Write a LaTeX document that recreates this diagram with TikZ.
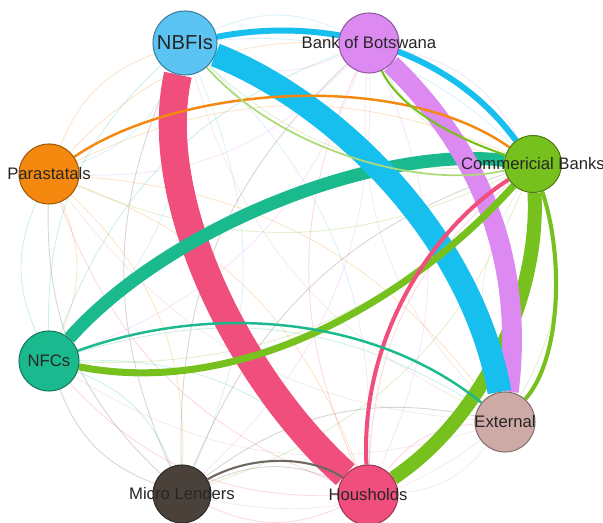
\documentclass[tikz,border=0pt]{standalone}
\usepackage{fontspec}
\setmainfont{Liberation Sans}
\usetikzlibrary{backgrounds}

\definecolor{nbfic}{HTML}{5BC4F3}
\definecolor{bluec}{HTML}{17BFEF}
\definecolor{bobc}{HTML}{DC8AF2}
\definecolor{parac}{HTML}{F5890F}
\definecolor{cbc}{HTML}{77C11E}
\definecolor{nfcc}{HTML}{1BBA8E}
\definecolor{extc}{HTML}{CDAAA5}
\definecolor{mlc}{HTML}{4A423A}
\definecolor{hhc}{HTML}{F04E7C}

\tikzset{
  actor/.style={circle,fill=#1,draw=#1!65!black,line width=0.6pt,
    minimum size=1.2cm,inner sep=0pt},
  lbl/.style={font=\fontsize{9.5}{11}\selectfont,text=black!85},
  faint/.style={line width=0.5pt,opacity=0.22},
  flow/.style={line cap=butt},
}

\begin{document}
\begin{tikzpicture}[x=0.02cm,y=-0.02cm]
\useasboundingbox (0,0) rectangle (603,523);

% the eight sectors
\node[actor=nbfic,minimum size=1.28cm,label={[lbl,font=\fontsize{11.5}{13}\selectfont]center:NBFIs}] (nbfi) at (185,43) {};
\node[actor=bobc,label={[lbl]center:Bank of Botswana}] (bob) at (369,43) {};
\node[actor=parac,label={[lbl]center:Parastatals}] (para) at (49,174) {};
\node[actor=cbc,minimum size=1.14cm,label={[lbl]center:Commericial Banks}] (cb) at (533,164) {};
\node[actor=nfcc,label={[lbl]center:NFCs}] (nfc) at (49,361) {};
\node[actor=extc,label={[lbl]center:External}] (ext) at (505,422) {};
\node[actor=mlc,minimum size=1.16cm,label={[lbl]center:Micro Lenders}] (ml) at (182,494) {};
\node[actor=hhc,label={[lbl]center:Housholds}] (hh) at (368,495) {};

\begin{pgfonlayer}{background}
% faint web between all sectors
\foreach \a/\c in {nbfi/nbfic,bob/bobc,para/parac,cb/cbc,nfc/nfcc,ext/extc,ml/mlc,hh/hhc}
{
  \foreach \b in {nbfi,bob,para,cb,nfc,ext,ml,hh}
  {
    \ifx\a\b\else\draw[faint,\c] (\a) to[bend left=24] (\b);\fi
  }
}

% large flows
\draw[flow,cbc,line width=8pt] (cb) .. controls (540,300) and (480,420) .. (hh);
\draw[flow,hhc,line width=16pt] (nbfi) .. controls (150,200) and (240,380) .. (hh);
\draw[flow,nfcc,line width=7.4pt] (cb) .. controls (380,145) and (170,225) .. (nfc);
\draw[flow,bobc,line width=11.3pt] (bob) .. controls (480,150) and (525,260) .. (ext);
\draw[flow,bluec,line width=13.6pt] (nbfi) .. controls (330,100) and (470,230) .. (ext);

% smaller flows
\draw[flow,bluec,line width=3.4pt] (nbfi) .. controls (330,15) and (450,50) .. (cb);
\draw[flow,cbc,line width=4pt] (nfc) .. controls (250,400) and (420,290) .. (cb);
\draw[flow,cbc,line width=2.3pt] (cb) .. controls (565,260) and (560,360) .. (ext);
\draw[flow,hhc,line width=2.3pt] (hh) .. controls (360,340) and (430,230) .. (cb);
\draw[flow,parac,line width=1.4pt] (para) .. controls (180,85) and (400,70) .. (cb);
\draw[flow,nfcc,line width=1.4pt] (nfc) .. controls (220,300) and (380,320) .. (ext);
\draw[flow,mlc!80,line width=1.2pt] (ml) .. controls (250,455) and (310,455) .. (hh);
\draw[flow,cbc,line width=1.2pt] (bob) .. controls (400,110) and (460,140) .. (cb);
\draw[flow,cbc!60,line width=1pt] (nbfi) .. controls (280,150) and (420,190) .. (cb);
\end{pgfonlayer}

\end{tikzpicture}
\end{document}
